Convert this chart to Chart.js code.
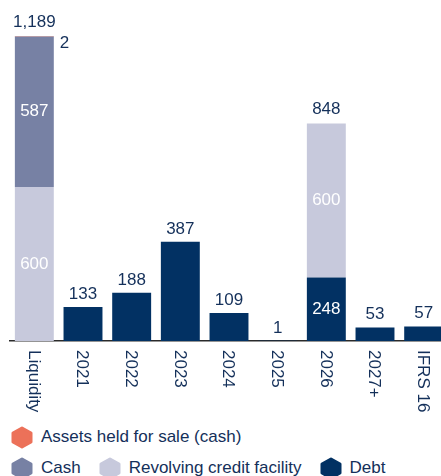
<!DOCTYPE html>
<html><head><meta charset="utf-8">
<script src="https://cdn.jsdelivr.net/npm/chart.js@4/dist/chart.umd.min.js"></script>
<style>
html,body{margin:0;padding:0;overflow:hidden;background:#fff;width:441px;height:476px}
#wrap{position:relative;width:448px;height:476px}
canvas{position:absolute;left:0;top:0}
.row{position:absolute;left:11px;display:flex;align-items:center;font:17px "Liberation Sans",Arial,sans-serif;color:#14305a;white-space:nowrap;height:24px}
.item{display:flex;align-items:center;margin-right:18px}
.item svg{margin-right:8px;display:block}
</style></head>
<body><div id="wrap"><canvas id="c" width="448" height="420"></canvas>
<div class="row" id="row1" style="top:425px"></div>
<div class="row" id="row2" style="top:456px"></div>
</div>
<script>
const categories = ['Liquidity','2021','2022','2023','2024','2025','2026','2027+','IFRS 16'];
const debt       = [null,133,188,387,109,1,248,53,57];
const rcf        = [600,null,null,null,null,null,600,null,null];
const cash       = [587,null,null,null,null,null,null,null,null];
const assetsHeld = [2,null,null,null,null,null,null,null,null];
const seriesNames = ['Debt','Revolving credit facility','Cash','Assets held for sale (cash)'];
const seriesColors = ['#023163','#c7c9dc','#7781a4','#ec7159'];
const legendRows = [[3],[2,1,0]];

const FONT = '17px "Liberation Sans", Arial, sans-serif';
const NAVY = '#14305a';

const labelPlugin = {
  id: 'valueLabels',
  afterDatasetsDraw(chart) {
    const ctx = chart.ctx;
    ctx.save();
    ctx.font = FONT;
    ctx.textBaseline = 'alphabetic';
    const ds = chart.data.datasets;
    chart.data.labels.forEach((cat, i) => {
      const segs = [];
      ds.forEach((d, di) => {
        const v = d.data[i];
        if (v !== null && v !== undefined) segs.push({di, v, el: chart.getDatasetMeta(di).data[i]});
      });
      const main = segs.filter(s => s.di !== 3);
      if (main.length === 1 && segs.length === 1) {
        const el = main[0].el;
        ctx.fillStyle = NAVY; ctx.textAlign = 'center';
        ctx.fillText(main[0].v.toLocaleString('en-US'), el.x, el.y - 8);
      } else {
        let total = 0, top = Infinity, x = 0, right = 0;
        segs.forEach(s => {
          total += s.v;
          const el = s.el;
          x = el.x; right = el.x + el.width / 2;
          top = Math.min(top, el.y);
          if (s.di === 3) {
            ctx.fillStyle = NAVY; ctx.textAlign = 'left';
            ctx.fillText(s.v.toLocaleString('en-US'), right + 6, el.y + 12);
          } else {
            ctx.fillStyle = '#ffffff'; ctx.textAlign = 'center';
            ctx.textBaseline = 'middle';
            ctx.fillText(s.v.toLocaleString('en-US'), el.x, (el.y + el.base) / 2);
            ctx.textBaseline = 'alphabetic';
          }
        });
        ctx.fillStyle = NAVY; ctx.textAlign = 'center';
        ctx.fillText(total.toLocaleString('en-US'), x, top - 9);
      }
    });
    ctx.restore();
  },
  afterDraw(chart) {
    const ctx = chart.ctx;
    const xs = chart.scales.x;
    chart.data.labels.forEach((lab, i) => {
      ctx.save();
      ctx.translate(xs.getPixelForValue(i) - 1, chart.chartArea.bottom + 9);
      ctx.rotate(Math.PI / 2);
      ctx.font = FONT;
      ctx.fillStyle = NAVY;
      ctx.textAlign = 'left';
      ctx.textBaseline = 'middle';
      ctx.fillText(lab, 0, 0);
      ctx.restore();
    });
  }
};

new Chart(document.getElementById('c'), {
  type: 'bar',
  data: {
    labels: categories,
    datasets: [
      {label: seriesNames[0], data: debt, backgroundColor: seriesColors[0]},
      {label: seriesNames[1], data: rcf, backgroundColor: seriesColors[1]},
      {label: seriesNames[2], data: cash, backgroundColor: seriesColors[2]},
      {label: seriesNames[3], data: assetsHeld, backgroundColor: seriesColors[3]}
    ]
  },
  options: {
    responsive: false,
    animation: false,
    layout: {padding: {left: 10, right: 0, top: 36, bottom: 79}},
    datasets: {bar: {categoryPercentage: 1, barPercentage: 0.8, borderWidth: 0}},
    plugins: {legend: {display: false}, tooltip: {enabled: false}},
    scales: {
      x: {
        stacked: true,
        grid: {display: false, drawTicks: false},
        ticks: {display: false},
        border: {display: true, color: '#2a2a2a', width: 1.5}
      },
      y: {stacked: true, display: false, min: 0, max: 1189}
    }
  },
  plugins: [labelPlugin]
});

function hex(color) {
  return '<svg width="22" height="23" viewBox="0 0 22 23"><polygon points="11,2 20,7 20,16 11,21 2,16 2,7" fill="' + color +
    '" stroke="' + color + '" stroke-width="3" stroke-linejoin="round"/></svg>';
}
legendRows.forEach((row, r) => {
  const el = document.getElementById('row' + (r + 1));
  el.innerHTML = row.map(di => '<span class="item">' + hex(seriesColors[di]) + '<span>' + seriesNames[di] + '</span></span>').join('');
});
</script>
</body></html>
